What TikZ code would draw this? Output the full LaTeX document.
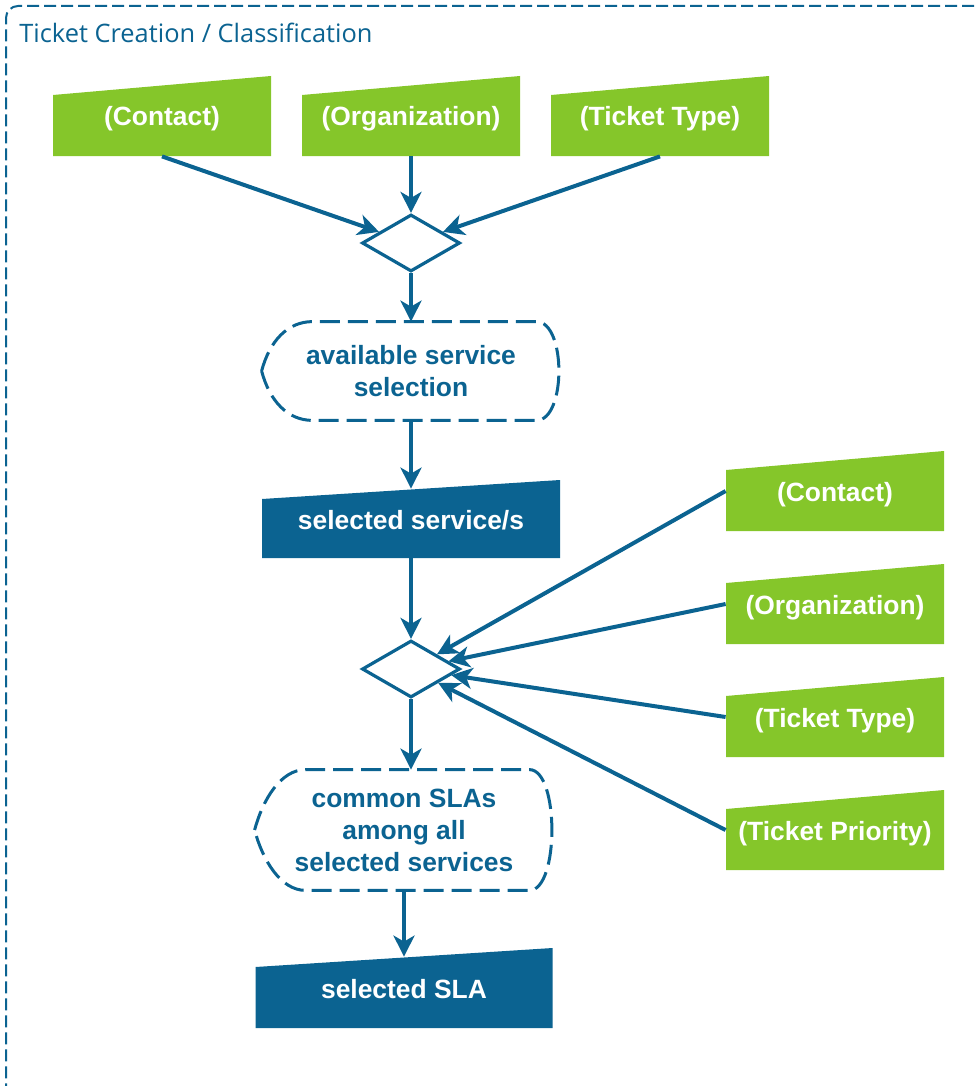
\documentclass[tikz,border=0pt]{standalone}
\usepackage{fontspec}
\newfontfamily\labelfont{Liberation Sans}
\newfontfamily\titlefont{Open Sans}
\usetikzlibrary{shapes.geometric, arrows.meta}
\usetikzlibrary{calc}
\definecolor{sblue}{HTML}{0B6391}
\definecolor{sgreen}{HTML}{85C62A}

\begin{document}
\begin{tikzpicture}[
    x=0.5pt, y=-0.5pt, >={Stealth[length=10.5pt, width=10.5pt, inset=3pt]},
    % manual input boxes (slanted top)
    manual input/.style={
        minimum width=109pt,
        minimum height=40pt,
        inner sep=0pt,
        text height=11pt,
        text depth=1pt,
        text=white,
        font=\labelfont\bfseries\fontsize{13.2}{16}\selectfont,
        path picture={
            \fill[#1] (path picture bounding box.south west)
                -- (path picture bounding box.south east)
                -- (path picture bounding box.north east)
                -- ([yshift=-9.5pt]path picture bounding box.north west)
                -- cycle;
        }
    },
    % decisions
    decision/.style={
        diamond,
        draw=sblue,
        fill=white,
        line width=1.6pt,
        minimum width=49pt,
        minimum height=28.5pt,
        inner sep=0pt
    },
    % display shapes (dashed outline drawn below)
    display/.style={
        minimum width=149pt,
        inner sep=0pt,
        align=center,
        text=sblue,
        font=\labelfont\bfseries\fontsize{13.2}{16}\selectfont
    },
    display edge/.style={draw=sblue, line width=1.5pt, dash pattern=on 10pt off 4pt},
    % edges
    flow/.style={->, draw=sblue, line width=2pt},
    frame/.style={draw=sblue, line width=1pt, dash pattern=on 6pt off 2.5pt, rounded corners=6pt},
    title/.style={anchor=west, inner sep=0pt, text=sblue, font=\titlefont\fontsize{12.7}{15}\selectfont}
]
\useasboundingbox (0,0) rectangle (974,1086);

% -------------------------------
% outer frame
\draw[frame] (974,6) -- (6,6) -- (6,1086);
\node[title] (title) at (19,33) {Ticket Creation / Classification};

% -------------------------------
% top inputs
\foreach \name/\x/\lbl in {contact/162/{(Contact)}, org/411/{(Organization)}, type/660/{(Ticket Type)}}
{
    \node[manual input=sgreen] (top-\name) at (\x,116) {\lbl};
}
\node[decision] (choice-1) at (411,243) {};

% -------------------------------
% service selection
\node[display, minimum height=49pt] (avail) at (411,371) {available service\\selection};
\node[manual input=sblue, minimum width=149pt, minimum height=39pt] (sel-service) at (411,519) {selected service/s};
\node[decision] (choice-2) at (411,669) {};

% -------------------------------
% side inputs
\foreach \name/\y/\lbl in {contact/491/{(Contact)}, org/604/{(Organization)}, type/717/{(Ticket Type)}, prio/830/{(Ticket Priority)}}
{
    \node[manual input=sgreen] (side-\name) at (835,\y) {\lbl};
}

% -------------------------------
% SLA selection
\node[display, minimum height=60pt] (common) at (404,830) {common SLAs\\among all\\selected services};
\node[manual input=sblue, minimum width=148.5pt] (sel-sla) at (404,988) {selected SLA};

% dashed outlines of the display shapes
\foreach \n in {avail, common}
{
    \draw[display edge] (\n.west)
        .. controls +(8,-30) and ($(\n.north west)+(26,0)$) .. ($(\n.north west)+(51,0)$)
        -- ($(\n.north east)+(-24,0)$)
        .. controls ($(\n.north east)+(6,0)$) and ($(\n.south east)+(6,0)$) .. ($(\n.south east)+(-24,0)$)
        -- ($(\n.south west)+(51,0)$)
        .. controls ($(\n.south west)+(26,0)$) and ($(\n.west)+(8,30)$) .. (\n.west);
}

% -------------------------------
% connectors
\foreach \name in {contact, org, type}
    \draw[flow] (top-\name.south) -- (choice-1);
\draw[flow] (choice-1) -- (avail);
\draw[flow, shorten >=-4.5pt] (avail) -- (sel-service);
\draw[flow] (sel-service) -- (choice-2);
\foreach \name in {contact, org, type, prio}
    \draw[flow] (side-\name.west) -- (choice-2);
\draw[flow] (choice-2.south) -- (choice-2.south |- common.north);
\draw[flow, shorten >=-4.5pt] (common) -- (sel-sla);
\end{tikzpicture}
\end{document}
